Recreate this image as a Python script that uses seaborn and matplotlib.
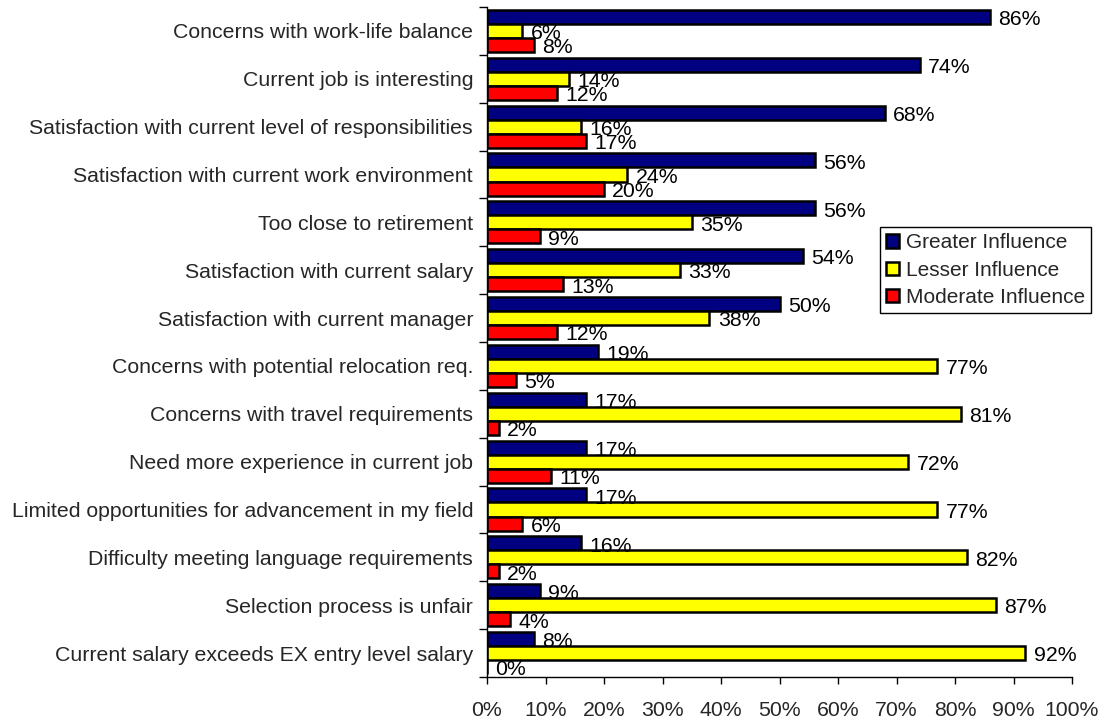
import matplotlib
matplotlib.use("Agg")
import matplotlib.pyplot as plt
import seaborn as sns
import pandas as pd
import numpy as np
from matplotlib.ticker import FixedLocator

categories = [
    "Concerns with work-life balance",
    "Current job is interesting",
    "Satisfaction with current level of responsibilities",
    "Satisfaction with current work environment",
    "Too close to retirement",
    "Satisfaction with current salary",
    "Satisfaction with current manager",
    "Concerns with potential relocation req.",
    "Concerns with travel requirements",
    "Need more experience in current job",
    "Limited opportunities for advancement in my field",
    "Difficulty meeting language requirements",
    "Selection process is unfair",
    "Current salary exceeds EX entry level salary",
]
series_names = ["Greater Influence", "Lesser Influence", "Moderate Influence"]
greater = [86, 74, 68, 56, 56, 54, 50, 19, 17, 17, 17, 16, 9, 8]
lesser = [6, 14, 16, 24, 35, 33, 38, 77, 81, 72, 77, 82, 87, 92]
moderate = [8, 12, 17, 20, 9, 13, 12, 5, 2, 11, 6, 2, 4, 0]
colors = ["#000080", "#FFFF00", "#FF0000"]
xticks = list(range(0, 101, 10))

sns.set_theme(style="white")
plt.rcParams["font.family"] = ["Liberation Sans", "DejaVu Sans"]

rows = []
for name, vals in zip(series_names, [greater, lesser, moderate]):
    for c, v in zip(categories, vals):
        rows.append({"Category": c, "Series": name, "Value": v})
df = pd.DataFrame(rows)

fig = plt.figure(figsize=(11.09, 7.21), dpi=100)
ax = fig.add_axes([487 / 1109, 1 - 677 / 721, (1072 - 487) / 1109, 670 / 721])

sns.barplot(data=df, y="Category", x="Value", hue="Series", order=categories,
            hue_order=series_names, palette=colors, orient="h", width=0.88,
            edgecolor="black", linewidth=1.8, saturation=1, ax=ax)

fs = 15.3
for cont in ax.containers:
    for bar in cont:
        w = bar.get_width()
        yc = bar.get_y() + bar.get_height() / 2
        ax.annotate(f"{w:.0f}%", (w, yc), xytext=(6, -2), textcoords="offset points",
                    ha="left", va="center", fontsize=fs, color="black")

ax.set_xlim(0, 100)
ax.set_ylim(len(categories) - 0.5, -0.5)
ax.set_xticks(xticks)
ax.set_xticklabels([f"{t}%" for t in xticks], fontsize=fs)
ax.tick_params(axis="x", direction="out", length=5, width=1, color="black", pad=12, bottom=True)
ax.tick_params(axis="y", which="major", length=0, pad=10, labelsize=fs)
ax.yaxis.set_minor_locator(FixedLocator(np.arange(-0.5, len(categories), 1)))
ax.tick_params(axis="y", which="minor", direction="out", length=6, width=1, color="black", left=True)
ax.set_xlabel("")
ax.set_ylabel("")
for s in ["top", "right"]:
    ax.spines[s].set_visible(False)
for s in ["left", "bottom"]:
    ax.spines[s].set_color("black")
    ax.spines[s].set_linewidth(1)

handles, labels = ax.get_legend_handles_labels()
ax.legend(handles, labels, loc="upper left", bbox_to_anchor=(880 / 1109, 1 - 227 / 721),
          bbox_transform=fig.transFigure, frameon=True, fancybox=False, framealpha=1,
          edgecolor="black", fontsize=15, handlelength=0.6, handleheight=0.6,
          handletextpad=0.35, borderpad=0.3, labelspacing=0.4, borderaxespad=0)
ax.get_legend().get_frame().set_linewidth(1)

fig.savefig("out.png", dpi=100)
